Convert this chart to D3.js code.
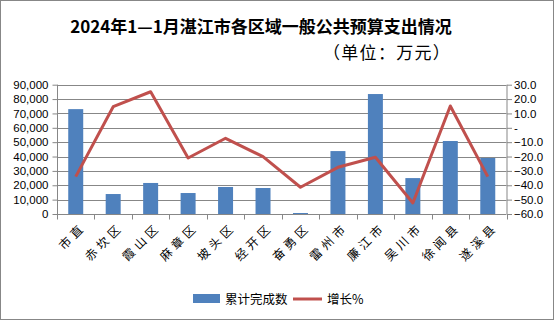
<!DOCTYPE html>
<html>
<head>
<meta charset="utf-8">
<script src="https://cdn.jsdelivr.net/npm/d3@7/dist/d3.min.js"></script>
<style>
  html, body { margin: 0; padding: 0; background: #fff; }
  svg { display: block; }
  text { font-family: "Liberation Sans", "Noto Sans CJK SC", sans-serif; fill: #000; }
  .cjk { font-family: "Noto Sans CJK SC", sans-serif; }
</style>
</head>
<body>
<script>
// Districts of Zhanjiang
const categories = ["市直", "赤坎区", "霞山区", "麻章区", "坡头区", "经开区", "奋勇区", "雷州市", "廉江市", "吴川市", "徐闻县", "遂溪县"];
// Cumulative completed spending (10k yuan)
const completed = [73000, 13900, 21600, 14600, 18800, 18100, 700, 43800, 83500, 25000, 50800, 39000];
// Year-on-year growth (%)
const growth = [-34.0, 14.7, 25.1, -21.0, -7.3, -20.1, -41.4, -27.5, -20.5, -52.3, 15.2, -34.0];
// Axis ticks
const leftTicks = [0, 10000, 20000, 30000, 40000, 50000, 60000, 70000, 80000, 90000];
const rightTicks = [-60, -50, -40, -30, -20, -10, 0, 10, 20, 30];

const W = 556, H = 322;
const svg = d3.select("body").append("svg").attr("width", W).attr("height", H);

// outer frame
svg.append("rect").attr("x", 0.5).attr("y", 0.5).attr("width", W - 3).attr("height", H - 3)
  .attr("fill", "#fff").attr("stroke", "#878787").attr("stroke-width", 1);

const plot = { left: 57, right: 506.5, top: 84.7, bottom: 214 };

const x = d3.scaleBand().domain(categories).range([plot.left, plot.right]).paddingInner(0).paddingOuter(0);
const yL = d3.scaleLinear().domain([0, 90000]).range([plot.bottom, plot.top]);
const yR = d3.scaleLinear().domain([-60, 30]).range([plot.bottom, plot.top]);

// gridlines
svg.append("g").selectAll("line").data(leftTicks.filter(d => d > 0)).join("line")
  .attr("x1", plot.left).attr("x2", plot.right)
  .attr("y1", d => Math.round(yL(d)) + 0.5).attr("y2", d => Math.round(yL(d)) + 0.5)
  .attr("stroke", "#878787").attr("stroke-width", 1);

// bars
const barW = x.bandwidth() * 0.4;
svg.append("g").selectAll("rect").data(categories).join("rect")
  .attr("x", (d) => x(d) + (x.bandwidth() - barW) / 2)
  .attr("width", barW)
  .attr("y", (d, i) => yL(completed[i]))
  .attr("height", (d, i) => plot.bottom - yL(completed[i]))
  .attr("fill", "#4F81BD");

// growth line
const line = d3.line()
  .x((d, i) => x(categories[i]) + x.bandwidth() / 2)
  .y(d => yR(d));
svg.append("path").datum(growth).attr("d", line)
  .attr("fill", "none").attr("stroke", "#C0504D").attr("stroke-width", 3).attr("stroke-linejoin", "round");

// left axis
const axL = svg.append("g").attr("transform", `translate(${plot.left + 0.5},0)`)
  .call(d3.axisLeft(yL).tickValues(leftTicks).tickSize(5).tickPadding(4).tickFormat(d3.format(",")));
// right axis
const axR = svg.append("g").attr("transform", `translate(${plot.right + 0.5},0)`)
  .call(d3.axisRight(yR).tickValues(rightTicks).tickSize(5).tickPadding(2)
    .tickFormat(d => d === 0 ? "-" : d3.format(".1f")(d)));
// bottom axis
const axB = svg.append("g").attr("transform", `translate(0,${plot.bottom + 0.5})`)
  .call(d3.axisBottom(x).tickSize(0).tickFormat(""));
axB.selectAll(".tick").remove();
axB.append("g").selectAll("line").data(d3.range(categories.length + 1)).join("line")
  .attr("x1", i => Math.round(plot.left + i * x.step()) + 0.5)
  .attr("x2", i => Math.round(plot.left + i * x.step()) + 0.5)
  .attr("y1", 0).attr("y2", 5).attr("stroke", "#878787");

[axL, axR, axB].forEach(g => {
  g.select(".domain").attr("stroke", "#878787");
  g.selectAll(".tick line").attr("stroke", "#878787");
  g.selectAll(".tick text").attr("font-size", 11.5).attr("fill", "#000")
    .attr("font-family", "Liberation Sans, sans-serif");
});
axL.select(".domain").attr("d", `M0,${plot.top}V${plot.bottom}`);
axR.select(".domain").attr("d", `M0,${plot.top}V${plot.bottom}`);
axB.select(".domain").attr("d", `M${plot.left},0H${plot.right}`);

// category labels, rotated
svg.append("g").selectAll("text").data(categories).join("text")
  .attr("class", "cjk")
  .attr("transform", d => `translate(${x(d) + x.bandwidth() / 2 + 7},${plot.bottom + 10}) rotate(-45)`)
  .attr("text-anchor", "end")
  .attr("dominant-baseline", "central")
  .attr("font-size", 12)
  .attr("letter-spacing", 4)
  .text(d => d);

// title
svg.append("text").attr("class", "cjk").attr("x", 261).attr("y", 33)
  .attr("text-anchor", "middle").attr("font-size", 17).attr("font-weight", "bold")
  .text("2024年1—1月湛江市各区域一般公共预算支出情况");
svg.append("text").attr("class", "cjk").attr("x", 323).attr("y", 59)
  .attr("font-size", 17).attr("letter-spacing", 1.3)
  .text("（单位：万元）");

// legend
const lg = svg.append("g");
lg.append("rect").attr("x", 193).attr("y", 294).attr("width", 27).attr("height", 9).attr("fill", "#4F81BD");
lg.append("text").attr("class", "cjk").attr("x", 225).attr("y", 303.5).attr("font-size", 12.5).text("累计完成数");
lg.append("line").attr("x1", 293).attr("x2", 322).attr("y1", 299).attr("y2", 299)
  .attr("stroke", "#C0504D").attr("stroke-width", 3);
lg.append("text").attr("class", "cjk").attr("x", 327).attr("y", 303.5).attr("font-size", 12.5).text("增长%");
</script>
</body>
</html>
